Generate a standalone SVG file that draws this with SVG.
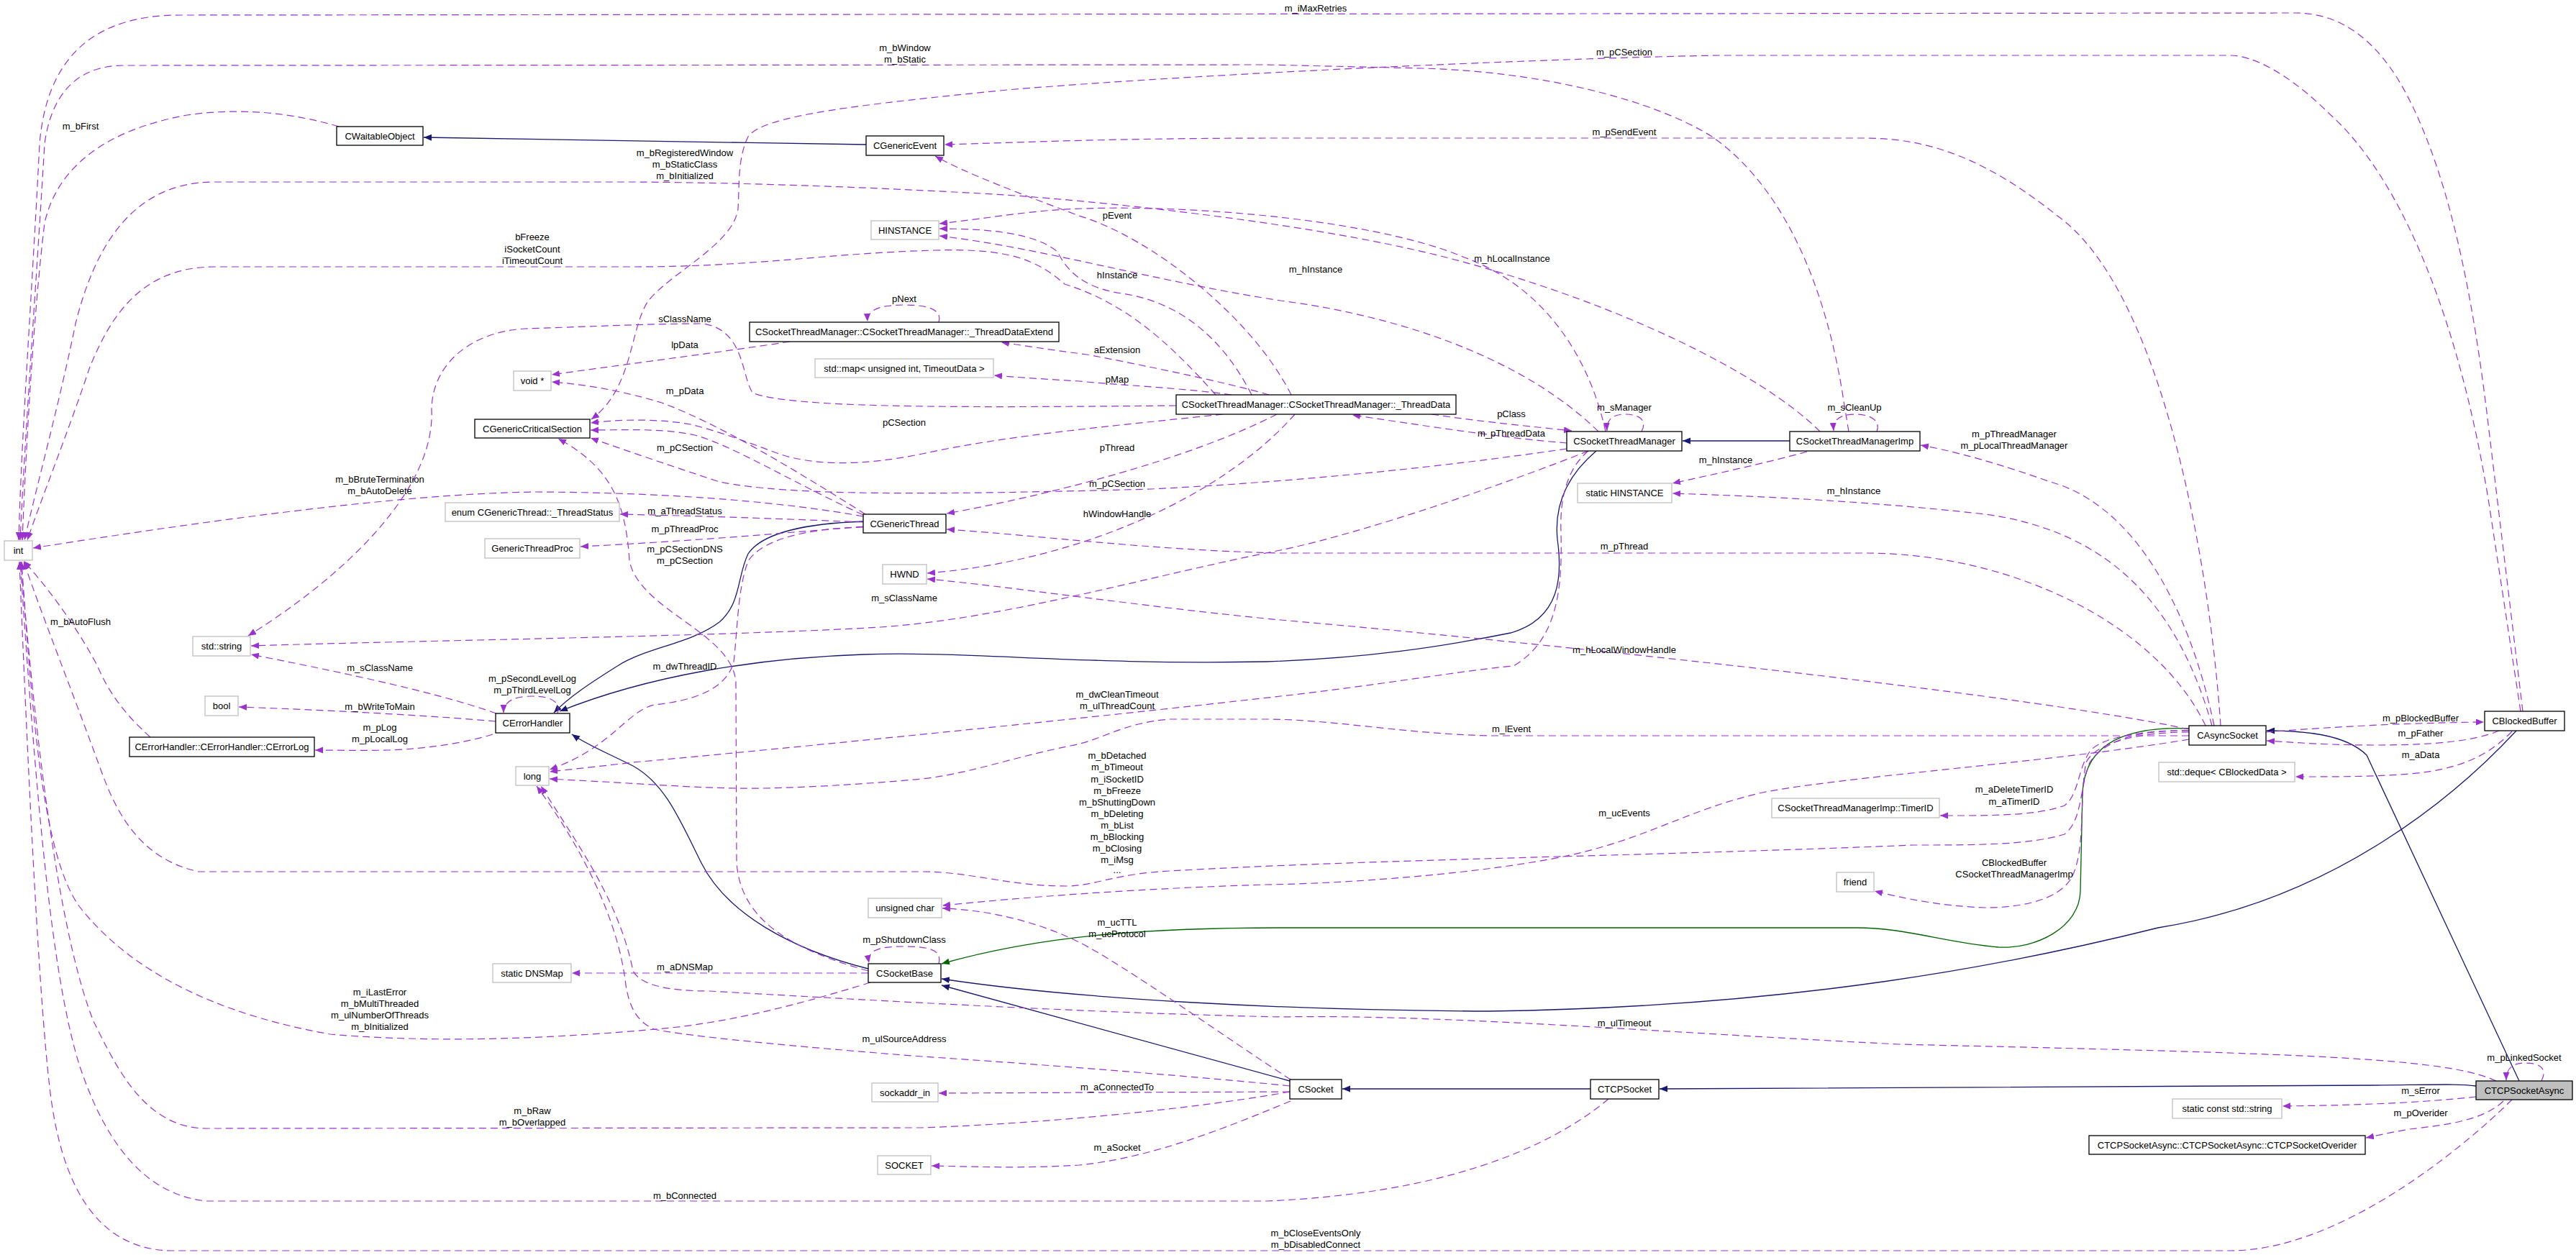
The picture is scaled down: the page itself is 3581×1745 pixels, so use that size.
<svg xmlns="http://www.w3.org/2000/svg" width="3581" height="1745" viewBox="0 0 3581 1745">
<style>
text{font-family:"Liberation Sans",Arial,Helvetica,sans-serif;font-size:13px;fill:#000;text-anchor:middle}
.n rect{fill:#fff;stroke:#000;stroke-width:1.3}
.g rect{fill:#fff;stroke:#bfbfbf;stroke-width:1.3}
.cur rect{fill:#bfbfbf;stroke:#000;stroke-width:1.3}
.u{fill:none;stroke:#9a32cd;stroke-width:1.2;stroke-dasharray:10,6;marker-end:url(#mu)}
.i{fill:none;stroke:#191970;stroke-width:1.3;marker-end:url(#mi)}
.p{fill:none;stroke:#006400;stroke-width:1.3;marker-end:url(#mp)}
</style>
<defs>
<marker id="mu" markerUnits="userSpaceOnUse" markerWidth="12" markerHeight="10" refX="11" refY="4.5" orient="auto"><path d="M0,0 L11,4.5 L0,9 z" fill="#9a32cd"/></marker>
<marker id="mi" markerUnits="userSpaceOnUse" markerWidth="12" markerHeight="10" refX="11" refY="4.5" orient="auto"><path d="M0,0 L11,4.5 L0,9 z" fill="#191970"/></marker>
<marker id="mp" markerUnits="userSpaceOnUse" markerWidth="12" markerHeight="10" refX="11" refY="4.5" orient="auto"><path d="M0,0 L11,4.5 L0,9 z" fill="#006400"/></marker>
</defs>
<rect width="3581" height="1745" fill="#fff"/>
<g id="edges">
<path class="i" d="M1204,201 C1000,198 800,194 589,191"/>
<path class="i" d="M2488,613 L2339,613"/>
<path class="i" d="M1200,725 C1120,728 1060,740 1040,770 C1025,800 1030,840 1000,865 C960,895 900,900 860,925 C820,950 790,970 770,991"/>
<path class="i" d="M2219,627 C2180,660 2160,700 2165,750 C2172,800 2170,860 2100,880 C2000,900 1900,915 1760,920 C1500,925 1350,905 1200,910 C1050,915 900,940 778,989"/>
<path class="i" d="M1207,1347 C1100,1320 1010,1270 975,1200 C945,1140 925,1090 880,1065 C840,1045 815,1035 795,1021"/>
<path class="i" d="M1793,1503 L1309,1370"/>
<path class="i" d="M3498,1016 C3420,1100 3250,1250 3000,1290 C2800,1340 2500,1400 2070,1406 C1800,1405 1500,1390 1309,1361"/>
<path class="p" d="M3043,1013 C2960,1010 2900,1030 2895,1100 L2892,1240 C2890,1290 2830,1320 2778,1317 C2700,1310 2650,1290 2581,1290 L1780,1290 C1600,1290 1450,1300 1309,1340"/>
<path class="i" d="M2211,1514 L1866,1514"/>
<path class="i" d="M3442,1510 C3420,1507 3400,1508 3300,1509 L2307,1514"/>
<path class="i" d="M3502,1503 L3290,1050 C3260,1020 3200,1016 3151,1016"/>
<path class="u" d="M3507,989 L3459,590 C3440,430 3410,260 3350,140 C3300,40 3240,18 3190,18 L250,21 C130,21 65,80 55,200 C45,400 30,600 26,751"/>
<path class="u" d="M2570,600 L2564,564 C2540,400 2480,260 2380,190 C2300,140 2150,100 1978,95 L1760,90 L172,91 C100,91 70,140 62,200 C50,400 35,600 28,751"/>
<path class="u" d="M471,176 C400,155 330,150 260,160 C150,180 80,230 62,310 C45,450 35,650 31,751"/>
<path class="u" d="M2530,600 C2450,520 2250,420 2007,357 C1800,305 1500,278 1397,271 C1250,262 1050,254 880,253 L298,253 C180,253 130,350 105,450 C85,550 50,680 34,751"/>
<path class="u" d="M1690,549 C1620,470 1560,420 1480,395 C1440,360 1400,345 1300,348 C1150,352 1050,371 880,371 L298,371 C190,371 150,450 125,510 C95,600 55,700 38,751"/>
<path class="u" d="M1200,718 C1100,700 950,685 746,684 C550,686 250,730 46,762"/>
<path class="u" d="M209,1025 C170,990 150,960 135,925 C100,860 60,810 33,780"/>
<path class="u" d="M1210,1366 C1100,1400 1000,1425 900,1432 C750,1445 600,1450 459,1438 C300,1410 180,1350 110,1260 C60,1190 45,1000 30,781"/>
<path class="u" d="M1793,1518 C1700,1535 1500,1560 1282,1568 L287,1569 C200,1569 160,1480 130,1420 C90,1320 55,1100 29,781"/>
<path class="u" d="M2236,1528 C2150,1600 2000,1660 1760,1670 L287,1670 C190,1660 140,1570 110,1480 C70,1350 50,1100 28,781"/>
<path class="u" d="M3492,1529 C3420,1600 3250,1739 3100,1739 L241,1739 C130,1739 85,1640 70,1520 C55,1400 40,1100 27,781"/>
<path class="u" d="M3043,1016 C2980,1015 2930,1025 2905,1060 C2890,1100 2895,1140 2870,1160 C2820,1175 2750,1175 2660,1175 C2300,1190 1900,1195 1626,1211 C1550,1215 1520,1232 1483,1232 C1400,1232 1350,1212 1282,1212 L276,1212 C200,1195 165,1140 140,1070 C100,960 60,860 33,781"/>
<path class="u" d="M3504,989 L3460,700 C3420,450 3340,250 3240,160 C3180,100 3130,77 3100,77 L2391,77 C2200,80 1700,100 1400,125 C1200,145 1060,160 1040,190 C1025,220 1028,260 1026,290 C1020,340 930,380 900,420 C875,460 880,540 822,583"/>
<path class="u" d="M3087,1009 C3070,760 3000,400 2860,300 C2760,220 2680,192 2592,192 L1780,192 C1550,192 1420,198 1313,201"/>
<path class="u" d="M3078,1009 C3040,830 2960,700 2850,670 C2780,645 2720,628 2670,619"/>
<path class="u" d="M3075,1009 C3030,850 2940,740 2760,715 C2600,697 2450,690 2325,686"/>
<path class="u" d="M2512,628 C2450,645 2380,660 2325,672"/>
<path class="u" d="M3066,1009 C3000,870 2800,769 2592,769 L1780,769 C1600,765 1450,745 1316,736"/>
<path class="u" d="M3043,1014 C2800,962 2100,890 1780,862 C1600,845 1400,815 1289,805"/>
<path class="u" d="M3043,1023 L2070,1023 C1950,1020 1850,1000 1760,1000 L1626,1000 C1560,1005 1530,1030 1488,1037 C1400,1055 1350,1075 1282,1083 C1150,1095 1050,1097 1023,1096 C960,1095 900,1090 764,1083"/>
<path class="u" d="M3043,1028 C2850,1060 2560,1080 2450,1102 C2350,1125 2300,1160 2200,1185 C2100,1210 1900,1228 1760,1230 C1600,1235 1450,1245 1310,1259"/>
<path class="u" d="M3043,1016 C2980,1015 2920,1025 2905,1045 C2888,1070 2890,1105 2870,1120 C2830,1135 2760,1134 2697,1134"/>
<path class="u" d="M3043,1018 C2980,1018 2915,1030 2900,1060 C2890,1110 2900,1180 2880,1220 C2860,1255 2800,1262 2760,1262 C2700,1260 2650,1250 2606,1239"/>
<path class="u" d="M3150,1018 C3250,1010 3350,1005 3453,1004"/>
<path class="u" d="M3474,1016 C3440,1030 3390,1036 3300,1036 C3240,1036 3200,1033 3151,1030"/>
<path class="u" d="M3492,1017 C3460,1050 3420,1070 3350,1076 C3300,1080 3250,1080 3191,1080"/>
<path class="u" d="M3533,1503 C3542,1485 3530,1478 3510,1478 C3490,1478 3484,1488 3484,1502"/>
<path class="u" d="M3442,1525 C3350,1535 3250,1537 3173,1538"/>
<path class="u" d="M3480,1531 C3450,1560 3390,1565 3350,1570 C3320,1575 3300,1580 3289,1582"/>
<path class="u" d="M3470,1503 C3400,1470 3200,1465 2640,1452 C2300,1435 2000,1410 1780,1414 C1500,1408 1200,1390 986,1378 C930,1378 890,1370 880,1350 C860,1250 800,1170 752,1093"/>
<path class="u" d="M1793,1510 C1700,1500 1450,1480 1282,1469 C1100,1455 950,1440 909,1431 C885,1420 875,1400 870,1370 C860,1280 810,1180 746,1093"/>
<path class="u" d="M1793,1518 L1305,1520"/>
<path class="u" d="M1794,1531 C1700,1570 1600,1610 1500,1620 C1420,1625 1350,1622 1295,1621"/>
<path class="u" d="M1794,1501 C1700,1440 1560,1340 1500,1310 C1450,1285 1380,1265 1310,1263"/>
<path class="u" d="M1305,1340 C1310,1320 1290,1316 1257,1316 C1220,1316 1205,1322 1208,1339"/>
<path class="u" d="M1207,1353 L795,1353"/>
<path class="u" d="M1207,1350 C1100,1320 1030,1280 1024,1200 L1023,950 C1020,880 890,850 875,780 C870,700 850,650 776,610"/>
<path class="u" d="M2208,627 C2100,670 1900,740 1780,765 C1600,800 1400,860 1224,872 C1000,885 600,890 349,898"/>
<path class="u" d="M2208,627 C2180,650 2168,690 2170,740 C2172,820 2165,890 2104,926 C2050,930 1900,955 1780,968 C1500,1000 1100,1040 880,1060 C830,1066 790,1070 764,1073"/>
<path class="u" d="M1200,733 C1120,735 1060,750 1040,780 C1025,820 1025,880 1020,920 C1010,960 960,975 909,980 C870,990 850,1040 764,1070"/>
<path class="u" d="M775,992 C780,975 765,968 740,968 C715,968 700,975 700,991"/>
<path class="u" d="M690,992 C600,960 450,930 349,910"/>
<path class="u" d="M689,1003 C600,995 450,987 332,983"/>
<path class="u" d="M685,1021 C640,1035 580,1042 540,1043 C500,1044 470,1043 438,1043"/>
<path class="u" d="M2178,624 C2000,650 1800,670 1600,680 C1300,688 1100,690 1000,670 C940,650 880,630 821,609"/>
<path class="u" d="M1200,716 C1100,670 1020,620 966,605 C920,595 870,598 821,598"/>
<path class="u" d="M1700,576 C1550,592 1400,605 1282,631 C1200,648 1130,648 1080,630 C1040,615 1000,600 960,590 C920,583 870,582 821,588"/>
<path class="u" d="M1200,726 C1100,722 1000,718 862,715"/>
<path class="u" d="M1200,732 C1100,740 1000,750 807,760"/>
<path class="u" d="M1203,715 C1100,650 1000,590 920,560 C870,545 820,535 767,531"/>
<path class="u" d="M1098,475 C1000,490 880,505 767,521"/>
<path class="u" d="M1635,564 C1400,566 1100,570 1046,546 C1030,520 1035,460 978,450 C900,450 800,455 729,457 C650,462 600,510 600,570 C605,680 480,800 345,884"/>
<path class="u" d="M1764,549 C1700,530 1550,500 1511,493 C1450,485 1420,480 1392,476"/>
<path class="u" d="M1712,549 C1650,540 1550,535 1500,530 C1450,527 1420,525 1382,522"/>
<path class="u" d="M1305,448 C1310,430 1290,424 1257,424 C1225,424 1205,430 1206,447"/>
<path class="u" d="M1740,549 C1700,470 1640,420 1560,408 C1500,400 1480,370 1470,350 C1440,325 1380,318 1306,318"/>
<path class="u" d="M1795,549 C1740,440 1600,330 1500,300 C1420,270 1340,240 1300,217"/>
<path class="u" d="M2232,600 C2210,500 2150,400 2036,358 C1900,300 1600,280 1454,293 C1400,298 1360,305 1306,311"/>
<path class="u" d="M2222,600 C2120,500 1950,440 1780,418 C1600,390 1450,345 1306,328"/>
<path class="u" d="M1990,576 C2050,585 2100,590 2185,599"/>
<path class="u" d="M2178,616 C2100,610 2000,595 1880,577"/>
<path class="u" d="M2282,600 C2290,585 2280,576 2259,576 C2240,576 2233,585 2234,599"/>
<path class="u" d="M2609,600 C2615,585 2600,576 2580,576 C2555,576 2548,585 2549,599"/>
<path class="u" d="M1800,576 C1700,690 1500,780 1289,797"/>
<path class="u" d="M1775,576 C1650,640 1450,690 1316,714"/>
<g id="edge-labels">
<text x="1829" y="16">m_iMaxRetries</text>
<text x="1258" y="71">m_bWindow</text><text x="1258" y="87">m_bStatic</text>
<text x="2258" y="77">m_pCSection</text>
<text x="112" y="180">m_bFirst</text>
<text x="2258" y="188">m_pSendEvent</text>
<text x="952" y="217">m_bRegisteredWindow</text><text x="952" y="233">m_bStaticClass</text><text x="952" y="249">m_bInitialized</text>
<text x="1553" y="304">pEvent</text>
<text x="740" y="334">bFreeze</text><text x="740" y="351">iSocketCount</text><text x="740" y="367">iTimeoutCount</text>
<text x="2102" y="364">m_hLocalInstance</text>
<text x="1829" y="379">m_hInstance</text>
<text x="1553" y="387">hInstance</text>
<text x="1257" y="420">pNext</text>
<text x="952" y="448">sClassName</text>
<text x="952" y="484">lpData</text>
<text x="1553" y="491">aExtension</text>
<text x="1553" y="532">pMap</text>
<text x="952" y="548">m_pData</text>
<text x="2258" y="571">m_sManager</text>
<text x="2578" y="571">m_sCleanUp</text>
<text x="2101" y="580">pClass</text>
<text x="1257" y="592">pCSection</text>
<text x="2101" y="607">m_pThreadData</text>
<text x="2800" y="608">m_pThreadManager</text><text x="2800" y="624">m_pLocalThreadManager</text>
<text x="952" y="627">m_pCSection</text>
<text x="1553" y="627">pThread</text>
<text x="2399" y="644">m_hInstance</text>
<text x="528" y="671">m_bBruteTermination</text><text x="528" y="687">m_bAutoDelete</text>
<text x="1553" y="677">m_pCSection</text>
<text x="2577" y="687">m_hInstance</text>
<text x="952" y="715">m_aThreadStatus</text>
<text x="1553" y="719">hWindowHandle</text>
<text x="952" y="740">m_pThreadProc</text>
<text x="2258" y="764">m_pThread</text>
<text x="952" y="768">m_pCSectionDNS</text><text x="952" y="784">m_pCSection</text>
<text x="1257" y="836">m_sClassName</text>
<text x="112" y="869">m_bAutoFlush</text>
<text x="2258" y="908">m_hLocalWindowHandle</text>
<text x="952" y="931">m_dwThreadID</text>
<text x="528" y="933">m_sClassName</text>
<text x="740" y="948">m_pSecondLevelLog</text><text x="740" y="964">m_pThirdLevelLog</text>
<text x="1553" y="970">m_dwCleanTimeout</text><text x="1553" y="986">m_ulThreadCount</text>
<text x="528" y="987">m_bWriteToMain</text>
<text x="3365" y="1003">m_pBlockedBuffer</text>
<text x="528" y="1016">m_pLog</text><text x="528" y="1032">m_pLocalLog</text>
<text x="2101" y="1018">m_lEvent</text>
<text x="3365" y="1024">m_pFather</text>
<text x="3365" y="1054">m_aData</text>
<text x="1553" y="1055">m_bDetached</text><text x="1553" y="1071">m_bTimeout</text><text x="1553" y="1088">m_iSocketID</text><text x="1553" y="1104">m_bFreeze</text><text x="1553" y="1120">m_bShuttingDown</text><text x="1553" y="1136">m_bDeleting</text><text x="1553" y="1152">m_bList</text><text x="1553" y="1168">m_bBlocking</text><text x="1553" y="1184">m_bClosing</text><text x="1553" y="1200">m_iMsg</text><text x="1553" y="1214">...</text>
<text x="2800" y="1102">m_aDeleteTimerID</text><text x="2800" y="1119">m_aTimerID</text>
<text x="2258" y="1135">m_ucEvents</text>
<text x="2800" y="1204">CBlockedBuffer</text><text x="2800" y="1220">CSocketThreadManagerImp</text>
<text x="1553" y="1287">m_ucTTL</text><text x="1553" y="1303">m_ucProtocol</text>
<text x="1257" y="1311">m_pShutdownClass</text>
<text x="952" y="1349">m_aDNSMap</text>
<text x="528" y="1384">m_iLastError</text><text x="528" y="1400">m_bMultiThreaded</text><text x="528" y="1416">m_ulNumberOfThreads</text><text x="528" y="1432">m_bInitialized</text>
<text x="2258" y="1427">m_ulTimeout</text>
<text x="1257" y="1449">m_ulSourceAddress</text>
<text x="3509" y="1475">m_pLinkedSocket</text>
<text x="1553" y="1516">m_aConnectedTo</text>
<text x="3365" y="1521">m_sError</text>
<text x="740" y="1549">m_bRaw</text><text x="740" y="1565">m_bOverlapped</text>
<text x="3365" y="1552">m_pOverider</text>
<text x="1553" y="1600">m_aSocket</text>
<text x="952" y="1667">m_bConnected</text>
<text x="1829" y="1719">m_bCloseEventsOnly</text><text x="1829" y="1735">m_bDisabledConnect</text>
</g>
</g>
<g id="CWaitableObject" class="n"><rect x="468" y="176" width="120" height="26"/><text x="528" y="193.5">CWaitableObject</text></g>
<g id="CGenericEvent" class="n"><rect x="1204" y="189" width="108" height="27"/><text x="1258" y="207">CGenericEvent</text></g>
<g id="HINSTANCE" class="g"><rect x="1211" y="307" width="94" height="26"/><text x="1258" y="324.5">HINSTANCE</text></g>
<g id="void_ptr" class="g"><rect x="714" y="516" width="52" height="27"/><text x="740" y="534">void *</text></g>
<g id="ThreadDataExtend" class="n"><rect x="1042" y="448" width="430" height="27"/><text x="1257" y="466">CSocketThreadManager::CSocketThreadManager::_ThreadDataExtend</text></g>
<g id="std_map" class="g"><rect x="1133" y="499" width="248" height="26"/><text x="1257" y="516.5">std::map&lt; unsigned int, TimeoutData &gt;</text></g>
<g id="ThreadData" class="n"><rect x="1635" y="549" width="389" height="27"/><text x="1829.5" y="567">CSocketThreadManager::CSocketThreadManager::_ThreadData</text></g>
<g id="CGenericCriticalSection" class="n"><rect x="660" y="583" width="160" height="26"/><text x="740" y="600.5">CGenericCriticalSection</text></g>
<g id="CSocketThreadManager" class="n"><rect x="2178" y="600" width="160" height="27"/><text x="2258" y="618">CSocketThreadManager</text></g>
<g id="CSocketThreadManagerImp" class="n"><rect x="2488" y="600" width="181" height="27"/><text x="2578.5" y="618">CSocketThreadManagerImp</text></g>
<g id="static_HINSTANCE" class="g"><rect x="2193" y="672" width="131" height="27"/><text x="2258.5" y="690">static HINSTANCE</text></g>
<g id="ThreadStatus" class="g"><rect x="619" y="699" width="242" height="26"/><text x="740" y="716.5">enum CGenericThread::_ThreadStatus</text></g>
<g id="CGenericThread" class="n"><rect x="1200" y="715" width="115" height="26"/><text x="1257.5" y="732.5">CGenericThread</text></g>
<g id="int" class="g"><rect x="6" y="752" width="39" height="27"/><text x="25.5" y="770">int</text></g>
<g id="GenericThreadProc" class="g"><rect x="674" y="749" width="132" height="27"/><text x="740" y="767">GenericThreadProc</text></g>
<g id="HWND" class="g"><rect x="1227" y="785" width="61" height="27"/><text x="1257.5" y="803">HWND</text></g>
<g id="std_string" class="g"><rect x="268" y="885" width="80" height="27"/><text x="308" y="903">std::string</text></g>
<g id="bool" class="g"><rect x="285" y="968" width="46" height="27"/><text x="308" y="986">bool</text></g>
<g id="CErrorHandler" class="n"><rect x="689" y="992" width="103" height="27"/><text x="740.5" y="1010">CErrorHandler</text></g>
<g id="CErrorLog" class="n"><rect x="180" y="1025" width="257" height="27"/><text x="308.5" y="1043">CErrorHandler::CErrorHandler::CErrorLog</text></g>
<g id="long" class="g"><rect x="717" y="1066" width="46" height="26"/><text x="740" y="1083.5">long</text></g>
<g id="CAsyncSocket" class="n"><rect x="3043" y="1009" width="107" height="27"/><text x="3096.5" y="1027">CAsyncSocket</text></g>
<g id="CBlockedBuffer" class="n"><rect x="3454" y="989" width="111" height="27"/><text x="3509.5" y="1007">CBlockedBuffer</text></g>
<g id="std_deque" class="g"><rect x="3001" y="1060" width="189" height="27"/><text x="3095.5" y="1078">std::deque&lt; CBlockedData &gt;</text></g>
<g id="TimerID" class="g"><rect x="2463" y="1110" width="233" height="27"/><text x="2579.5" y="1128">CSocketThreadManagerImp::TimerID</text></g>
<g id="friend" class="g"><rect x="2553" y="1213" width="52" height="27"/><text x="2579" y="1231">friend</text></g>
<g id="unsigned_char" class="g"><rect x="1207" y="1249" width="102" height="27"/><text x="1258" y="1267">unsigned char</text></g>
<g id="CSocketBase" class="n"><rect x="1207" y="1340" width="101" height="26"/><text x="1257.5" y="1357.5">CSocketBase</text></g>
<g id="static_DNSMap" class="g"><rect x="685" y="1340" width="109" height="26"/><text x="739.5" y="1357.5">static DNSMap</text></g>
<g id="sockaddr_in" class="g"><rect x="1212" y="1506" width="92" height="26"/><text x="1258" y="1523.5">sockaddr_in</text></g>
<g id="CSocket" class="n"><rect x="1793" y="1501" width="72" height="27"/><text x="1829" y="1519">CSocket</text></g>
<g id="CTCPSocket" class="n"><rect x="2211" y="1501" width="95" height="27"/><text x="2258.5" y="1519">CTCPSocket</text></g>
<g id="CTCPSocketAsync" class="cur"><rect x="3442" y="1503" width="134" height="26"/><text x="3509" y="1520.5">CTCPSocketAsync</text></g>
<g id="static_const_string" class="g"><rect x="3020" y="1528" width="152" height="27"/><text x="3096" y="1546">static const std::string</text></g>
<g id="CTCPSocketOverider" class="n"><rect x="2904" y="1579" width="384" height="26"/><text x="3096" y="1596.5">CTCPSocketAsync::CTCPSocketAsync::CTCPSocketOverider</text></g>
<g id="SOCKET" class="g"><rect x="1220" y="1607" width="74" height="26"/><text x="1257" y="1624.5">SOCKET</text></g>
</svg>
